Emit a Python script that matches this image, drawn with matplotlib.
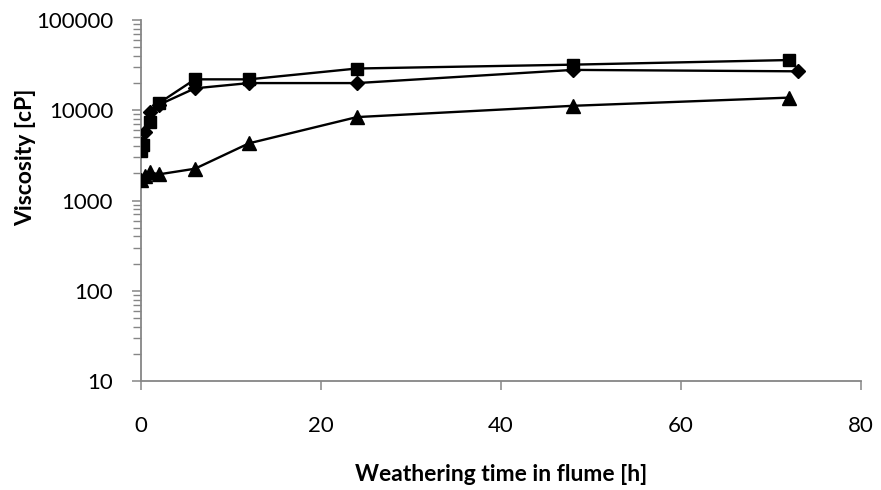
import numpy as np
import matplotlib
matplotlib.use("Agg")
from matplotlib import pyplot as plt
from matplotlib.ticker import LogLocator, FixedLocator, NullFormatter

# weathering time [h] and viscosity [cP] for the three oils
t_square = [0, 0.25, 1, 2, 6, 12, 24, 48, 72]
v_square = [3500, 4100, 7400, 12000, 22000, 22000, 29000, 32000, 36000]

t_diamond = [0, 0.5, 1, 2, 6, 12, 24, 48, 73]
v_diamond = [4200, 5800, 9500, 11500, 17500, 20000, 20000, 28000, 27000]

t_triangle = [0, 0.5, 1, 2, 6, 12, 24, 48, 72]
v_triangle = [1700, 1850, 2050, 1950, 2250, 4300, 8400, 11200, 13800]

x_ticks = [0, 20, 40, 60, 80]
y_ticks = [10, 100, 1000, 10000, 100000]
y_ticklabels = ['10', '100', '1000', '10000', '100000']

plt.rcParams['font.family'] = ['Lato', 'DejaVu Sans']
grey = '#868686'

fig = plt.figure(figsize=(8.81, 4.90), dpi=100)
ax = fig.add_axes([0.160, 0.2224, 0.817, 0.7368])

ax.plot(t_triangle, v_triangle, color='black', lw=1.7, marker='^', ms=10, zorder=3)
ax.plot(t_diamond, v_diamond, color='black', lw=1.7, marker='D', ms=7.5, zorder=3)
ax.plot(t_square, v_square, color='black', lw=1.7, marker='s', ms=8.5, zorder=3)

ax.set_yscale('log')
ax.set_xlim(0, 80)
ax.set_ylim(10, 100000)
ax.set_xticks(x_ticks)
ax.set_xticklabels([str(v) for v in x_ticks])
ax.yaxis.set_major_locator(FixedLocator(y_ticks))
ax.set_yticklabels(y_ticklabels)
ax.yaxis.set_minor_locator(LogLocator(base=10, subs=np.arange(2, 10)))
ax.yaxis.set_minor_formatter(NullFormatter())

for s in ['top', 'right']:
    ax.spines[s].set_visible(False)
for s in ['left', 'bottom']:
    ax.spines[s].set_color(grey)
    ax.spines[s].set_linewidth(1.3)

ax.tick_params(axis='x', which='major', direction='out', length=6.5, width=1.1,
               color=grey, labelsize=16, pad=19)
ax.tick_params(axis='y', which='major', direction='out', length=6.5, width=1.1,
               color=grey, labelsize=16, pad=13.5)
ax.tick_params(axis='y', which='minor', direction='out', length=6, width=1.0,
               color=grey)

ax.set_xlabel('Weathering time in flume [h]', fontsize=16.5, fontweight='bold', labelpad=20)
ax.set_ylabel('Viscosity [cP]', fontsize=16.5, fontweight='bold')
ax.yaxis.set_label_coords(-0.145, 0.62)

fig.savefig('out.png', dpi=100)
